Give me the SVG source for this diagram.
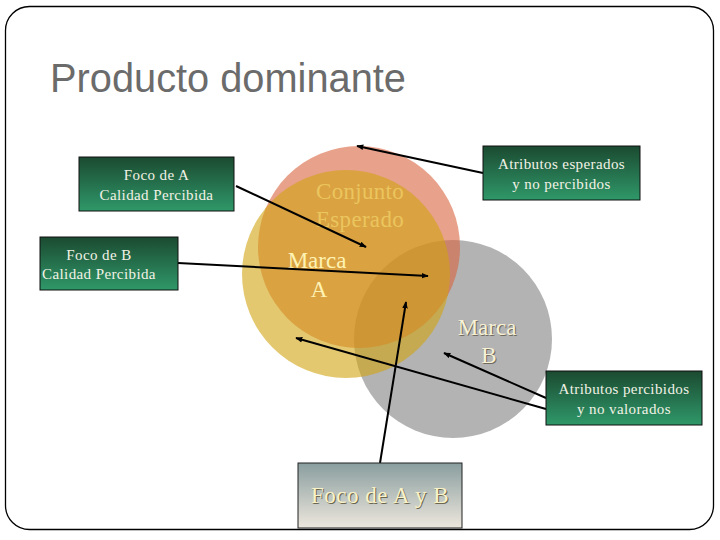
<svg xmlns="http://www.w3.org/2000/svg" width="720" height="540" viewBox="0 0 720 540">
<defs>
<linearGradient id="gGreen" x1="0" y1="0" x2="0" y2="1">
<stop offset="0" stop-color="#1B4A31"/>
<stop offset="1" stop-color="#2F9869"/>
</linearGradient>
<linearGradient id="gGrey" x1="0" y1="0" x2="0" y2="1">
<stop offset="0" stop-color="#8A9E9F"/>
<stop offset="1" stop-color="#EDE7DD"/>
</linearGradient>
<marker id="arr" viewBox="0 0 10 10" refX="9" refY="5" markerWidth="7" markerHeight="7" markerUnits="userSpaceOnUse" orient="auto">
<path d="M0,1 L10,5 L0,9 z" fill="#000"/>
</marker>
<style>
.box{stroke:#111;stroke-width:1}
.bt{font-family:"Liberation Serif","Times New Roman",serif;font-size:15px;fill:#F2F2E6;text-anchor:middle;letter-spacing:0.4px}
.ct{font-family:"Liberation Serif","Times New Roman",serif;font-size:23px;text-anchor:middle}
.ln{stroke:#000;stroke-width:2;fill:none;marker-end:url(#arr)}
</style>
</defs>
<rect x="5.5" y="6.5" width="708" height="523" rx="24" fill="#fff" stroke="#000" stroke-width="1.3"/>
<text x="50" y="92" font-family="'Liberation Sans',Arial,sans-serif" font-size="40" fill="#6B6B6B" textLength="356" lengthAdjust="spacingAndGlyphs">Producto dominante</text>

<g id="circles">
<circle id="marcaB" cx="453" cy="339" r="99" fill="#B3B3B3"/>
<circle id="conjunto" cx="359" cy="247" r="101" fill="#D9623C" fill-opacity="0.6"/>
<circle id="marcaA" cx="346" cy="274" r="104" fill="#D0A311" fill-opacity="0.6"/>
</g>

<g id="circle-labels">
<text class="ct" x="360" y="199" fill="#EBC55E" letter-spacing="0.3">Conjunto</text>
<text class="ct" x="360" y="227" fill="#EBC55E" letter-spacing="0.3">Esperado</text>
<text class="ct" x="317" y="268" fill="#FFF3B4">Marca</text>
<text class="ct" x="319" y="297" fill="#FFF3B4">A</text>
<text class="ct" x="488" y="336" fill="#6E6A5E">Marca</text>
<text class="ct" x="487" y="335" fill="#F7F1D6">Marca</text>
<text class="ct" x="490" y="364" fill="#6E6A5E">B</text>
<text class="ct" x="489" y="363" fill="#F7F1D6">B</text>
</g>

<g id="connectors">
<line class="ln" x1="236" y1="186" x2="366" y2="247"/>
<line class="ln" x1="178" y1="263" x2="428" y2="276"/>
<line class="ln" x1="483" y1="173" x2="357" y2="146"/>
<line class="ln" x1="546" y1="398" x2="444" y2="353"/>
<line class="ln" x1="546" y1="409" x2="296" y2="338"/>
<line class="ln" x1="380" y1="463" x2="406" y2="302"/>
</g>

<g id="focoA">
<rect class="box" x="79" y="157" width="155" height="54" fill="url(#gGreen)"/>
<text class="bt" x="156.5" y="180">Foco de A</text>
<text class="bt" x="156.5" y="200">Calidad Percibida</text>
</g>
<g id="focoB">
<rect class="box" x="40" y="237" width="138" height="53" fill="url(#gGreen)"/>
<text class="bt" x="99" y="260">Foco de B</text>
<text class="bt" x="99" y="279">Calidad Percibida</text>
</g>
<g id="atribEsperados">
<rect class="box" x="483" y="146" width="157" height="54" fill="url(#gGreen)"/>
<text class="bt" x="561.5" y="169">Atributos esperados</text>
<text class="bt" x="561.5" y="189">y no percibidos</text>
</g>
<g id="atribPercibidos">
<rect class="box" x="546" y="371" width="156" height="54" fill="url(#gGreen)"/>
<text class="bt" x="624" y="394">Atributos percibidos</text>
<text class="bt" x="624" y="414">y no valorados</text>
</g>
<g id="focoAB">
<rect x="298" y="463" width="164" height="65" fill="url(#gGrey)" stroke="#222" stroke-width="1"/>
<text class="ct" x="381" y="504" fill="#6A6650" letter-spacing="0.5">Foco de A y B</text>
<text class="ct" x="380" y="503" fill="#F8F2C8" letter-spacing="0.5">Foco de A y B</text>
</g>
</svg>
